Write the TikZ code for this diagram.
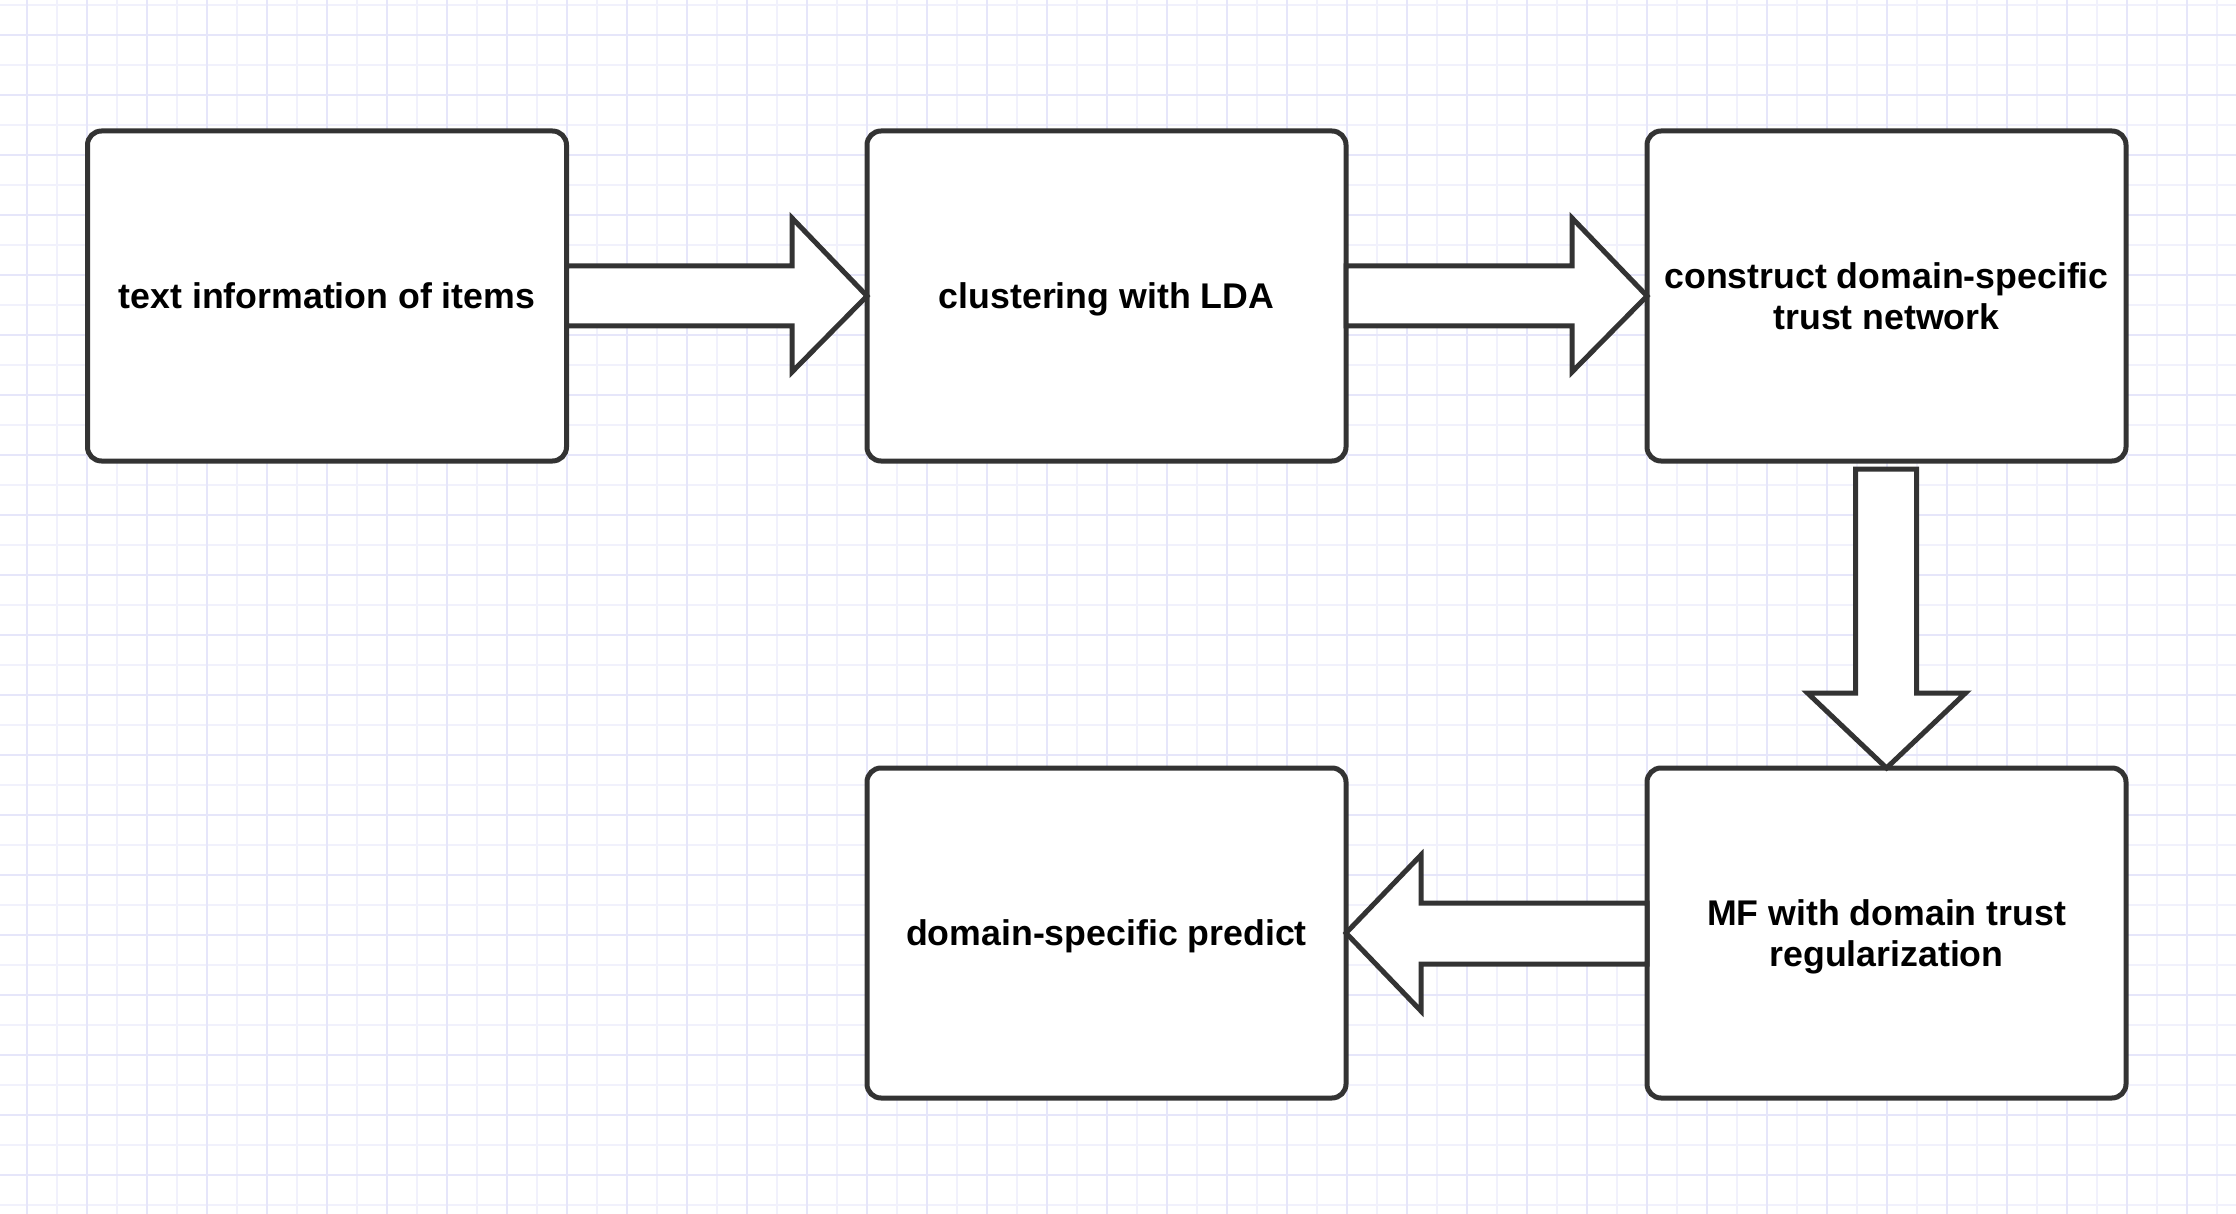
\documentclass[tikz,border=0pt]{standalone}
\usepackage{fontspec}
\setmainfont{Liberation Sans}
\usetikzlibrary{calc}
\definecolor{gridstrong}{HTML}{E6E6FA}
\definecolor{gridweak}{HTML}{F1F1FC}
\definecolor{strokegray}{HTML}{333333}
\newcommand{\mystrut}{\rule[-7pt]{0pt}{40pt}}
\begin{document}
\begin{tikzpicture}[x=1pt,y=-1pt,
  stepbox/.style={draw=strokegray, line width=5pt, rounded corners=14pt, fill=white,
    minimum width=479pt, minimum height=330pt, inner sep=0pt, outer sep=0pt,
    align=center, text=black, font=\fontsize{35.7}{41.4}\selectfont\bfseries},
  blockarrow/.style={draw=strokegray, fill=white, line width=5pt, line join=miter}]
\useasboundingbox (0,0) rectangle (2236,1214);
\fill[white] (0,0) rectangle (2236,1214);
% grid
\foreach \m in {0,...,37} {
  \draw[gridweak, line width=1.6pt] (56.7+60*\m,0) -- (56.7+60*\m,1214);
}
\foreach \m in {0,...,20} {
  \draw[gridweak, line width=1.6pt] (0,5+60*\m) -- (2236,5+60*\m);
}
\foreach \m in {0,...,37} {
  \draw[gridstrong, line width=2pt] (26.7+60*\m,0) -- (26.7+60*\m,1214);
}
\foreach \m in {0,...,20} {
  \draw[gridstrong, line width=2pt] (0,35+60*\m) -- (2236,35+60*\m);
}
% boxes
\node[stepbox] (text) at (327,296) {\mystrut text information of items};
\node[stepbox] (lda) at (1106.5,296) {\mystrut clustering with LDA};
\node[stepbox] (trust) at (1886.5,296) {\mystrut construct domain-specific\\\mystrut trust network};
\node[stepbox] (mf) at (1886.5,933) {\mystrut MF with domain trust\\\mystrut regularization};
\node[stepbox] (pred) at (1106.5,933) {\mystrut domain-specific predict};
% arrow text -> lda
\draw[blockarrow] ($(text.east)+(0,-30)$) -- ($(lda.west)+(-75,-30)$) -- ($(lda.west)+(-75,-78)$)
  -- (lda.west) -- ($(lda.west)+(-75,76)$) -- ($(lda.west)+(-75,30)$) -- ($(text.east)+(0,30)$) -- cycle;
% arrow lda -> trust
\draw[blockarrow] ($(lda.east)+(0,-30)$) -- ($(trust.west)+(-75,-30)$) -- ($(trust.west)+(-75,-78)$)
  -- (trust.west) -- ($(trust.west)+(-75,76)$) -- ($(trust.west)+(-75,30)$) -- ($(lda.east)+(0,30)$) -- cycle;
% arrow trust -> mf
\draw[blockarrow] ($(trust.south)+(-31,8)$) -- ($(mf.north)+(-31,-75)$) -- ($(mf.north)+(-79,-75)$)
  -- (mf.north) -- ($(mf.north)+(79,-75)$) -- ($(mf.north)+(30,-75)$) -- ($(trust.south)+(30,8)$) -- cycle;
% arrow mf -> pred
\draw[blockarrow] ($(mf.west)+(0,-30)$) -- ($(pred.east)+(75,-30)$) -- ($(pred.east)+(75,-78)$)
  -- (pred.east) -- ($(pred.east)+(75,78)$) -- ($(pred.east)+(75,31)$) -- ($(mf.west)+(0,31)$) -- cycle;
\end{tikzpicture}
\end{document}
